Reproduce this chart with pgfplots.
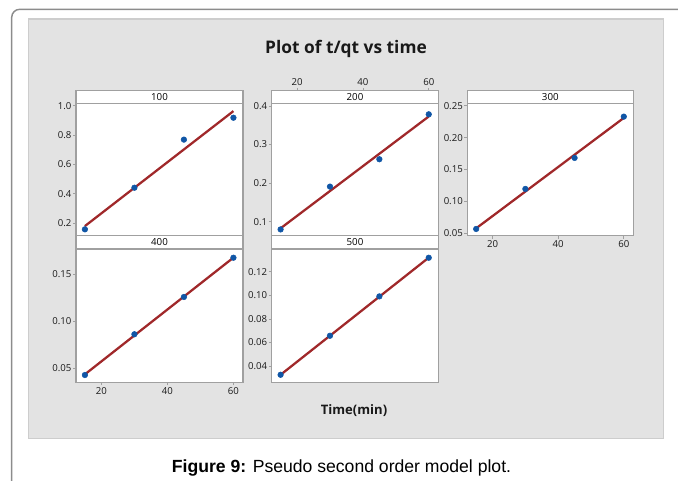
\documentclass[border=0pt]{standalone}
\usepackage{pgfplots}
\pgfplotsset{compat=1.18}
\usepackage{fontspec}
\setmainfont{Open Sans}
\newfontfamily\capfont{Liberation Sans}
\definecolor{bg}{RGB}{227,227,227}
\definecolor{bgedge}{RGB}{205,205,205}
\definecolor{frame}{RGB}{140,140,140}
\definecolor{boxc}{RGB}{160,160,160}
\definecolor{pt}{RGB}{16,86,166}
\definecolor{fit}{RGB}{160,40,42}
\pgfplotsset{
  panel/.style={
    anchor=south west, scale only axis, clip=false,
    axis background/.style={fill=white},
    xmin=12.3, xmax=62.9,
    axis line style={boxc, line width=0.8pt},
    tick style={boxc, line width=0.6pt},
    tick align=outside, major tick length=2.2pt,
    ytick pos=left,
    tick label style={font=\fontsize{7.2}{8}\selectfont, text=black!90},
    /pgf/number format/assume math mode=true,
    yticklabel style={inner sep=1pt},
    xticklabel style={inner sep=1.5pt},
  },
  pts/.style={only marks, mark=*, mark size=2.1pt, mark options={fill=pt, draw=pt}},
  fitl/.style={fit, line width=1.7pt, no marks},
}
\newcommand{\strip}[2]{%
  \draw[boxc, line width=0.8pt, fill=white] (axis description cs:0,#1) rectangle (axis description cs:1,1);
  \node[font=\fontsize{7.3}{8}\selectfont] at (axis description cs:0.5,{(1+#1)/2}) {#2};
}
\begin{document}
\begin{tikzpicture}[x=0.75pt,y=-0.75pt]
\useasboundingbox (0,0) rectangle (678,480);
\draw[frame, line width=1.1pt, rounded corners=6pt] (11.7,482) -- (11.7,9.3) -- (680,9.3);
\filldraw[fill=bg, draw=bgedge, line width=0.8pt] (28.3,19) rectangle (663.3,438.3);
\node[font=\bfseries\fontsize{13}{15}\selectfont, text=black!90, anchor=base] at (346,53.3) {Plot of t/qt vs time};
\node[font=\bfseries\fontsize{9.8}{12}\selectfont, text=black!90, anchor=base] at (354,414) {Time(min)};
\node[font=\capfont\fontsize{13.2}{15}\selectfont, anchor=base west, inner sep=0pt] at (171.7,472.5) {\textbf{Figure 9:} Pseudo second order model plot.};
\coordinate (p100) at (76,235.7);
\coordinate (p200) at (271.7,235.7);
\coordinate (p300) at (467.3,235.7);
\coordinate (p400) at (76,382.3);
\coordinate (p500) at (271.7,382.3);

% Panel 100
\begin{axis}[panel, at={(p100)}, width=125.25pt, height=108.75pt,
  ymin=0.1156, ymax=1.1017, ytick={0.2,0.4,0.6,0.8,1.0},
  yticklabel style={/pgf/number format/.cd, fixed, fixed zerofill, precision=1},
  xtick=\empty]
\addplot[fitl] coordinates {(15,0.181) (60,0.963)};
\addplot[pts] coordinates {(15,0.159) (30,0.442) (45,0.769) (60,0.918)};
\strip{0.9131}{100}
\end{axis}

% Panel 200
\begin{axis}[panel, at={(p200)}, width=124.95pt, height=108.75pt,
  ymin=0.0637, ymax=0.4397, ytick={0.1,0.2,0.3,0.4},
  yticklabel style={/pgf/number format/.cd, fixed, fixed zerofill, precision=1},
  xtick={20,40,60}, xtick pos=upper, xticklabel pos=upper]
\addplot[fitl] coordinates {(15,0.0829) (60,0.3729)};
\addplot[pts] coordinates {(15,0.080) (30,0.191) (45,0.262) (60,0.3785)};
\strip{0.9131}{200}
\end{axis}

% Panel 300
\begin{axis}[panel, at={(p300)}, width=124.5pt, height=108.75pt,
  ymin=0.0462, ymax=0.2738, ytick={0.05,0.10,0.15,0.20,0.25},
  yticklabel style={/pgf/number format/.cd, fixed, fixed zerofill, precision=2},
  xtick={20,40,60}, xtick pos=lower]
\addplot[fitl] coordinates {(15,0.0578) (60,0.2311)};
\addplot[pts] coordinates {(15,0.0568) (30,0.1196) (45,0.1683) (60,0.2331)};
\strip{0.9131}{300}
\end{axis}

% Panel 400
\begin{axis}[panel, at={(p400)}, width=125.25pt, height=109.95pt,
  ymin=0.0347, ymax=0.1912, ytick={0.05,0.10,0.15},
  yticklabel style={/pgf/number format/.cd, fixed, fixed zerofill, precision=2},
  xtick={20,40,60}, xtick pos=lower]
\addplot[fitl] coordinates {(15,0.0432) (60,0.1678)};
\addplot[pts] coordinates {(15,0.0425) (30,0.086) (45,0.1258) (60,0.1677)};
\strip{0.9093}{400}
\end{axis}

% Panel 500
\begin{axis}[panel, at={(p500)}, width=124.95pt, height=109.95pt,
  ymin=0.0262, ymax=0.1506, ytick={0.04,0.06,0.08,0.10,0.12},
  yticklabel style={/pgf/number format/.cd, fixed, fixed zerofill, precision=2},
  xtick=\empty]
\addplot[fitl] coordinates {(15,0.0326) (60,0.1320)};
\addplot[pts] coordinates {(15,0.0326) (30,0.0657) (45,0.0991) (60,0.1319)};
\strip{0.9093}{500}
\end{axis}
\end{tikzpicture}
\end{document}
